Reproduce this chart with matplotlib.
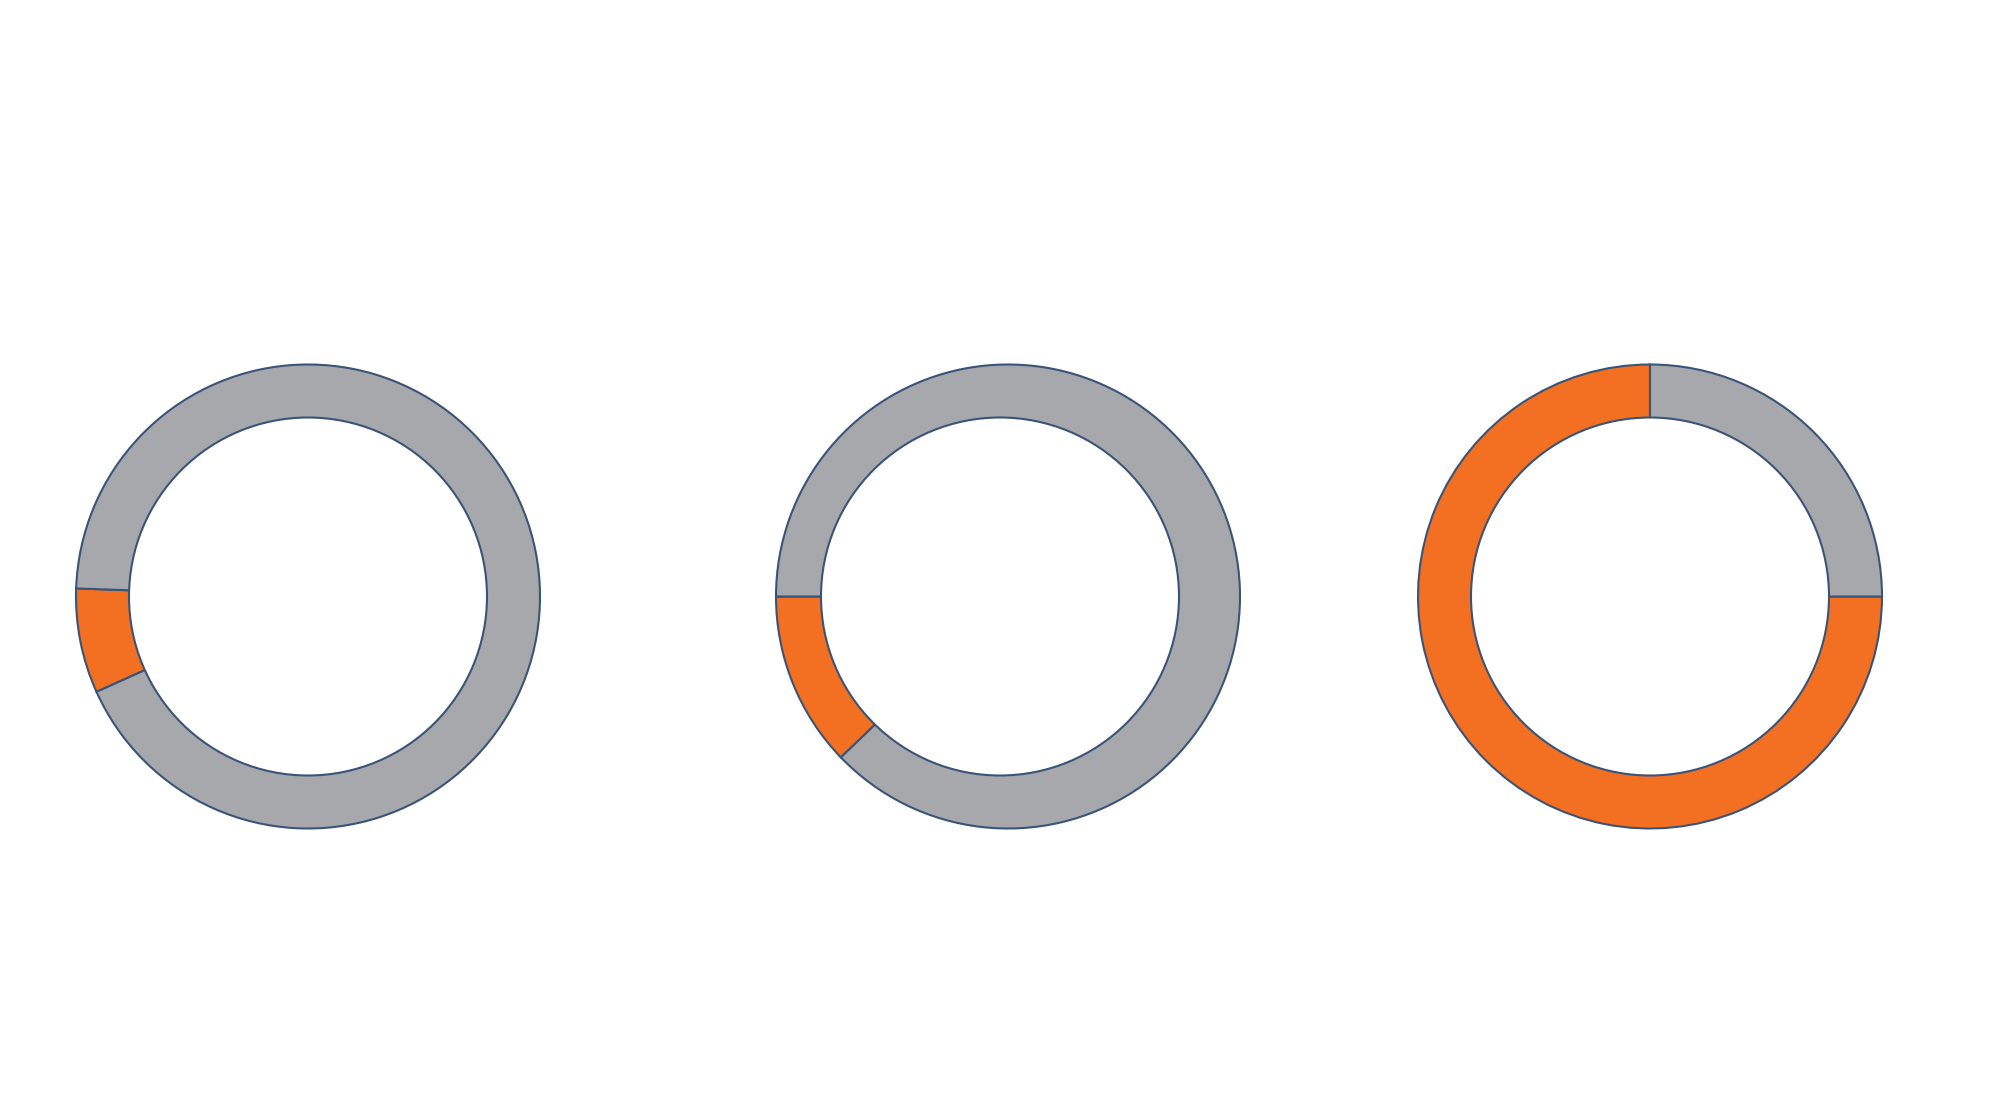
import matplotlib
matplotlib.use('Agg')
import matplotlib.pyplot as plt
from matplotlib.patches import Circle

# share of the orange part in each ring (percent)
orange_share = [7.3, 12.2, 75.0]
grey_share = [100 - v for v in orange_share]
start_angles = [178, 180, 90]

ORANGE = '#F36F21'
GREY = '#A7A8AC'
EDGE = '#3A5478'

# ring layout in pixel units (figure is 2000 x 1100)
centers_x = [308, 1008, 1650]
center_y = 503.5
outer_r = 232
inner_r = 179
hole_shift = [0, -8, 0]

fig = plt.figure(figsize=(20, 11), dpi=100)
ax = fig.add_axes([0, 0, 1, 1])

for i in range(len(orange_share)):
    ax.pie([orange_share[i], grey_share[i]],
           colors=[ORANGE, GREY],
           startangle=start_angles[i],
           counterclock=True,
           center=(centers_x[i], center_y),
           radius=outer_r,
           frame=True,
           wedgeprops=dict(edgecolor=EDGE, linewidth=1.5))
    # white hole in the middle
    ax.add_patch(Circle((centers_x[i] + hole_shift[i], center_y), inner_r,
                        facecolor='white', edgecolor=EDGE, linewidth=1.5,
                        zorder=5))

ax.set_xlim(0, 2000)
ax.set_ylim(0, 1100)
ax.set_aspect('equal')
ax.axis('off')

fig.savefig('out.png', dpi=100, facecolor='white')
